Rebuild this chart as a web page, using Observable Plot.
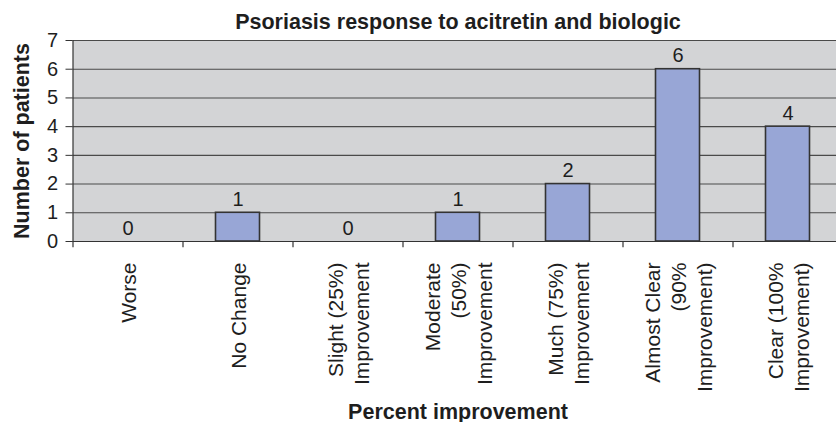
<!DOCTYPE html>
<html>
<head>
<meta charset="utf-8">
<script src="https://cdn.jsdelivr.net/npm/d3@7"></script>
<script src="https://cdn.jsdelivr.net/npm/@observablehq/plot@0.6"></script>
<style>
  html, body { margin: 0; padding: 0; background: #fff; width: 836px; height: 422px; overflow: hidden; }
  #chart { width: 836px; overflow: hidden; }
  #chart svg { display: block; max-width: none !important; }
</style>
</head>
<body>
<div id="chart"></div>
<script>
const categories = ["Worse", "No Change", "Slight", "Moderate", "Much", "Almost Clear", "Clear"];
const tickLabels = [
  "Worse",
  "No Change",
  "Slight (25%)\nImprovement",
  "Moderate\n(50%)\nImprovement",
  "Much (75%)\nImprovement",
  "Almost Clear\n(90%\nImprovement)",
  "Clear (100%\nImprovement)"
];
const patients = [0, 1, 0, 1, 2, 6, 4];
const yTicks = [0, 1, 2, 3, 4, 5, 6, 7];
const titleText = "Psoriasis response to acitretin and biologic";
const xTitle = "Percent improvement";
const yTitle = "Number of patients";

const data = categories.map((c, i) => ({category: c, label: tickLabels[i], value: patients[i]}));

const mL = 72.5, mR = 0, mT = 40, mB = 181;
const W = mL + 770, H = 422;
const step = (W - mL - mR) / categories.length;
const font = "'Liberation Sans', Arial, Helvetica, sans-serif";
const ink = "#1e1e1e";

const chart = Plot.plot({
  width: W, height: H,
  marginTop: mT, marginBottom: mB, marginLeft: mL, marginRight: mR,
  style: {fontFamily: font, color: ink, background: "#fff", overflow: "visible"},
  x: {domain: categories, paddingInner: 0.6, paddingOuter: 0.3, round: false, axis: null},
  y: {domain: [0, 7], axis: null},
  marks: [
    Plot.frame({fill: "#d3d4d6", stroke: null}),
    Plot.gridY(yTicks, {stroke: "#4a4a4a", strokeOpacity: 1, strokeWidth: 1.1}),
    Plot.barY(data.filter(d => d.value > 0), {x: "category", y: "value", fill: "#98a6d6", stroke: "#333", strokeWidth: 1.6}),
    Plot.ruleY([0], {stroke: "#333", strokeWidth: 1.2}),
    Plot.ruleX([categories[0]], {dx: -step / 2, stroke: "#333", strokeWidth: 1.2}),
    Plot.ruleX(categories, {x: d => d, y1: 0, y2: -0.22, dx: -step / 2, stroke: "#333", strokeWidth: 1.2}),
    Plot.axisY({ticks: yTicks, tickFormat: d3.format("d"), tickSize: 7, tickPadding: 8, fontSize: 20, label: null, stroke: "#333"}),
    Plot.text(data, {x: "category", y: "value", text: d => String(d.value), dy: -7, lineAnchor: "bottom", fontSize: 20, fill: ink}),
    Plot.text(data, {x: "category", text: "label", frameAnchor: "bottom", dy: 21, rotate: -90, textAnchor: "end", lineAnchor: "middle", lineHeight: 1.24, fontSize: 21, fill: ink}),
    Plot.text([titleText], {frameAnchor: "top", dy: -12, lineAnchor: "bottom", fontSize: 21.5, fontWeight: "bold", fill: ink}),
    Plot.text([xTitle], {frameAnchor: "bottom", dy: 177, lineAnchor: "bottom", fontSize: 21.5, fontWeight: "bold", fill: ink}),
    Plot.text([yTitle], {frameAnchor: "left", dx: -44, rotate: -90, textAnchor: "middle", lineAnchor: "bottom", fontSize: 21.5, fontWeight: "bold", fill: ink})
  ]
});
document.getElementById("chart").appendChild(chart);
</script>
</body>
</html>
